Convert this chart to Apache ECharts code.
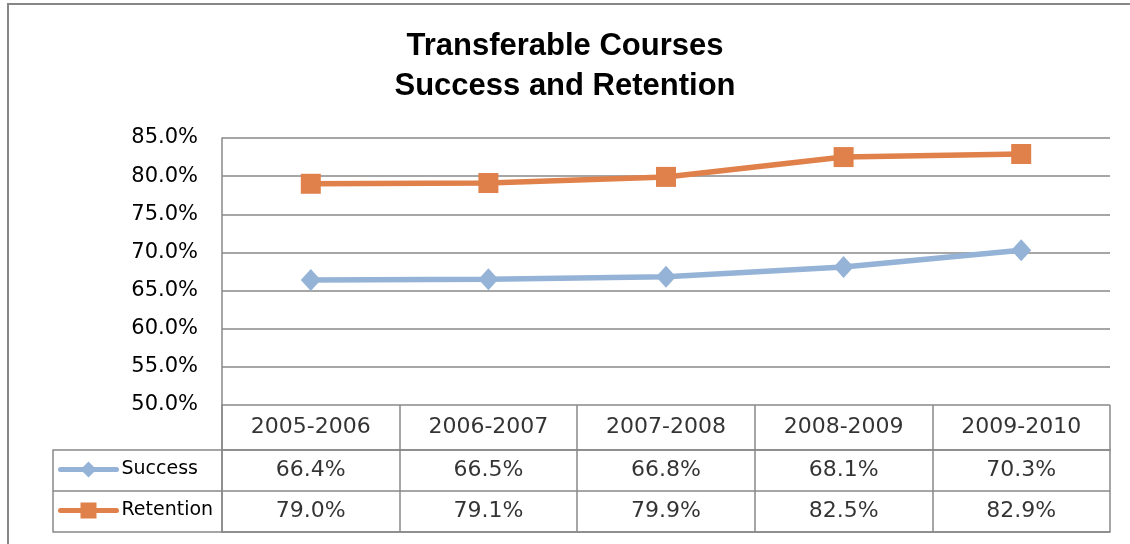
<!DOCTYPE html>
<html>
<head>
<meta charset="utf-8">
<script src="https://cdn.jsdelivr.net/npm/echarts@6/dist/echarts.min.js"></script>
<style>
html,body{margin:0;padding:0;background:#fff;}
#chart{width:1130px;height:544px;}
</style>
</head>
<body>
<div id="chart"></div>
<script>
const titleLines = ['Transferable Courses', 'Success and Retention'];
const categories = ['2005-2006', '2006-2007', '2007-2008', '2008-2009', '2009-2010'];
const seriesNames = ['Success', 'Retention'];
const successValues = [66.4, 66.5, 66.8, 68.1, 70.3];
const retentionValues = [79.0, 79.1, 79.9, 82.5, 82.9];
const yMin = 50, yMax = 85, yStep = 5;

const GRID = '#888888';
const BLUE = '#95B3D7';
const ORANGE = '#E0804A';
const FONT = 'DejaVu Sans';

const chart = echarts.init(document.getElementById('chart'), null, {renderer: 'canvas'});

const headerData = categories.map(c => [c, 'h']);
const bodyData = [];
categories.forEach((c, i) => {
  bodyData.push([c, seriesNames[0], successValues[i]]);
  bodyData.push([c, seriesNames[1], retentionValues[i]]);
});

const pct = v => v.toFixed(1) + '%';

const legendBase = {
  left: 58, padding: 0, itemWidth: 56, itemHeight: 20, selectedMode: false,
  lineStyle: {width: 5, cap: 'round'},
  textStyle: {fontFamily: FONT, fontSize: 19, color: '#000'}
};

chart.setOption({
  animation: false,
  backgroundColor: '#fff',
  title: {
    text: titleLines.join('\n'),
    left: 'center',
    top: 26,
    padding: [0, 0, 0, 18],
    textStyle: {fontFamily: 'Liberation Sans', fontWeight: 'bold', fontSize: 31, lineHeight: 40, color: '#000'}
  },
  graphic: [{
    type: 'rect', z: -10, silent: true,
    shape: {x: 8, y: 4, width: 1300, height: 700},
    style: {fill: 'none', stroke: '#878787', lineWidth: 2}
  }],
  legend: [
    Object.assign({data: [seriesNames[0]], top: 460}, legendBase),
    Object.assign({data: [seriesNames[1]], top: 501}, legendBase)
  ],
  grid: [
    {left: 222, right: 20, top: 138, height: 267},
    {left: 222, right: 20, top: 405, height: 45},
    {left: 222, right: 20, top: 450, height: 82}
  ],
  xAxis: [
    {gridIndex: 0, type: 'category', data: categories, boundaryGap: true,
     axisLine: {show: false}, axisTick: {show: false}, axisLabel: {show: false}, splitLine: {show: false}},
    {gridIndex: 1, type: 'category', data: categories, boundaryGap: true,
     axisLine: {show: true, lineStyle: {color: GRID, width: 1.5}}, axisTick: {show: false}, axisLabel: {show: false},
     splitLine: {show: true, interval: 0, lineStyle: {color: GRID, width: 1.5}}},
    {gridIndex: 2, type: 'category', data: categories, boundaryGap: true,
     axisLine: {show: true, lineStyle: {color: GRID, width: 1.5}}, axisTick: {show: false}, axisLabel: {show: false},
     splitLine: {show: true, interval: 0, lineStyle: {color: GRID, width: 1.5}}}
  ],
  yAxis: [
    {gridIndex: 0, type: 'value', min: yMin, max: yMax, interval: yStep,
     axisLine: {show: true, lineStyle: {color: GRID, width: 1.5}}, axisTick: {show: false},
     axisLabel: {formatter: v => pct(v), fontFamily: FONT, fontSize: 21, color: '#000', margin: 24,
                 padding: [5, 0, 0, 0]},
     splitLine: {show: true, lineStyle: {color: GRID, width: 1.5}}},
    {gridIndex: 1, type: 'category', data: ['h'],
     axisLine: {show: true, lineStyle: {color: GRID, width: 1.5}}, axisTick: {show: false}, axisLabel: {show: false},
     splitLine: {show: false}},
    {gridIndex: 2, type: 'category', data: seriesNames, inverse: true, boundaryGap: true,
     axisLine: {show: true, lineStyle: {color: GRID, width: 1.5}},
     axisTick: {show: true, interval: 0, length: 169, lineStyle: {color: GRID, width: 1.5}},
     axisLabel: {show: false},
     splitLine: {show: true, interval: 0, lineStyle: {color: GRID, width: 1.5}}},
    {gridIndex: 2, type: 'category', data: seriesNames, inverse: true, position: 'left', offset: 169,
     axisLine: {show: true, lineStyle: {color: GRID, width: 1.5}}, axisTick: {show: false},
     axisLabel: {show: false}, splitLine: {show: false}}
  ],
  series: [
    {name: seriesNames[0], type: 'line', xAxisIndex: 0, yAxisIndex: 0, data: successValues,
     symbol: 'diamond', symbolSize: [20, 22], showAllSymbol: true,
     lineStyle: {color: BLUE, width: 5.5}, itemStyle: {color: BLUE}, z: 3},
    {name: seriesNames[1], type: 'line', xAxisIndex: 0, yAxisIndex: 0, data: retentionValues,
     symbol: 'rect', symbolSize: 20, showAllSymbol: true,
     lineStyle: {color: ORANGE, width: 5.5}, itemStyle: {color: ORANGE}, z: 4},
    {type: 'scatter', xAxisIndex: 1, yAxisIndex: 1, data: headerData, symbolSize: 0, silent: true,
     label: {show: true, position: 'inside', formatter: p => p.value[0],
             fontFamily: FONT, fontSize: 22, color: '#000'}},
    {type: 'scatter', xAxisIndex: 2, yAxisIndex: 2, data: bodyData, symbolSize: 0, silent: true,
     label: {show: true, position: 'inside', formatter: p => pct(p.value[2]),
             fontFamily: FONT, fontSize: 22, color: '#000'}}
  ]
});
</script>
</body>
</html>
